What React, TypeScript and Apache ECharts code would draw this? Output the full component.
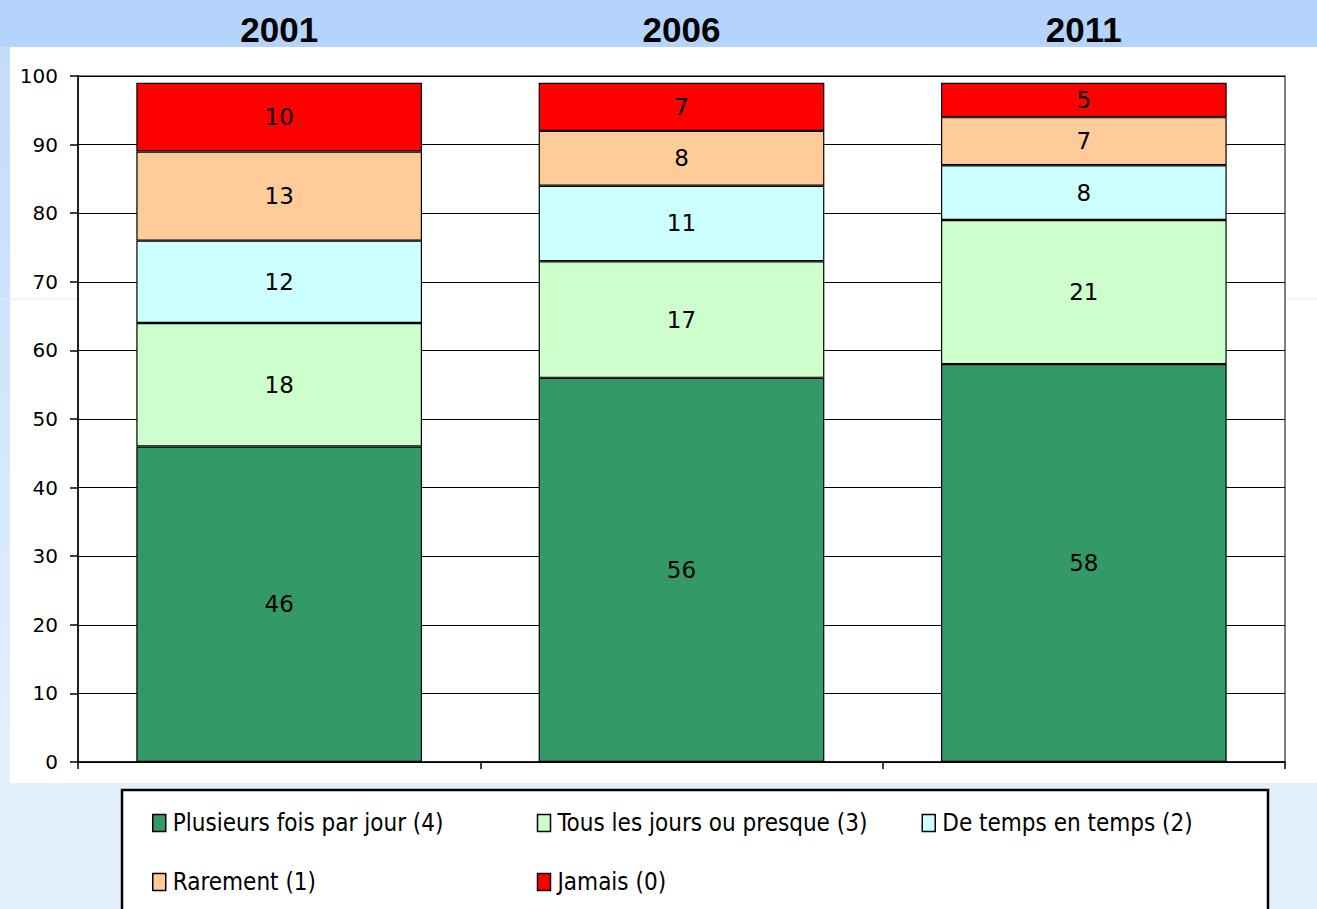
import React, { useEffect, useRef } from "react";
import * as echarts from "echarts";

const years = ["2001", "2006", "2011"];
const seriesNames = [
  "Plusieurs fois par jour (4)",
  "Tous les jours ou presque (3)",
  "De temps en temps (2)",
  "Rarement (1)",
  "Jamais (0)",
];
const plusieurs = [46, 56, 58];
const tousLesJours = [18, 17, 21];
const deTemps = [12, 11, 8];
const rarement = [13, 8, 7];
const jamais = [10, 7, 5];
const colors = ["#339966", "#ccffcc", "#ccffff", "#ffcc99", "#ff0000"];
const yTicks = { min: 0, max: 100, interval: 10 };

export default function App() {
  const ref = useRef<HTMLDivElement>(null);
  useEffect(() => {
    document.body.style.margin = "0";
    const chart = echarts.init(ref.current!, null, { renderer: "svg" });
    const values = [plusieurs, tousLesJours, deTemps, rarement, jamais];
    const legendText = {
      fontFamily: "Liberation Sans Narrow, DejaVu Sans Condensed, Liberation Sans, sans-serif",
      fontSize: 24,
      color: "#000",
      width: 354,
      lineHeight: 30,
    };
    chart.setOption({
      animation: false,
      backgroundColor: "#e3f1fd",
      graphic: [
        { type: "rect", z: -10, shape: { x: 0, y: 0, width: 1317, height: 47 }, style: { fill: "#b5d4fb" } },
        {
          type: "rect",
          z: -10,
          shape: { x: 0, y: 47, width: 10, height: 736 },
          style: {
            fill: new echarts.graphic.LinearGradient(0, 0, 0, 1, [
              { offset: 0, color: "#c2dcfb" },
              { offset: 1, color: "#e3f1fd" },
            ]),
          },
        },
        { type: "rect", z: -10, shape: { x: 10, y: 47, width: 1307, height: 736 }, style: { fill: "#ffffff" } },
        { type: "line", z: -9, shape: { x1: 0, y1: 299, x2: 1317, y2: 299 }, style: { stroke: "#e4eefa", lineWidth: 1 } },
        {
          type: "rect",
          z: -5,
          shape: { x: 122, y: 790, width: 1146, height: 140 },
          style: { fill: "#ffffff", stroke: "#000000", lineWidth: 2.5 },
        },
      ],
      grid: {
        left: 78,
        right: 32,
        top: 76,
        bottom: 147,
        show: true,
        backgroundColor: "#ffffff",
        borderColor: "#555555",
        borderWidth: 1.5,
      },
      legend: [
        {
          data: seriesNames.slice(0, 3),
          left: 152,
          top: 808,
          padding: 0,
          itemWidth: 13,
          itemHeight: 17,
          itemGap: 10,
          icon: "rect",
          itemStyle: { borderColor: "#000", borderWidth: 1.5 },
          textStyle: { ...legendText, padding: [0, 0, 0, 2] },
        },
        {
          data: seriesNames.slice(3),
          left: 152,
          top: 867,
          padding: 0,
          itemWidth: 13,
          itemHeight: 17,
          itemGap: 10,
          icon: "rect",
          itemStyle: { borderColor: "#000", borderWidth: 1.5 },
          textStyle: { ...legendText, padding: [0, 0, 0, 2] },
        },
      ],
      xAxis: [
        {
          type: "category",
          data: years,
          position: "bottom",
          axisLine: { lineStyle: { color: "#000", width: 1.5 } },
          axisTick: { show: true, length: 7, lineStyle: { color: "#000", width: 1.5 } },
          axisLabel: { show: false },
        },
        {
          type: "category",
          data: years,
          position: "top",
          axisLine: { show: false },
          axisTick: { show: false },
          axisLabel: {
            show: true,
            margin: 29,
            fontFamily: "Liberation Sans, Arial, sans-serif",
            fontWeight: "bold",
            fontSize: 35,
            color: "#000",
          },
        },
      ],
      yAxis: {
        type: "value",
        min: yTicks.min,
        max: yTicks.max,
        interval: yTicks.interval,
        axisLine: { show: true, lineStyle: { color: "#000", width: 1.5 } },
        axisTick: { show: true, length: 8, lineStyle: { color: "#000", width: 1.5 } },
        axisLabel: { margin: 20, fontFamily: "DejaVu Sans, Verdana, sans-serif", fontSize: 20, color: "#000" },
        splitLine: { show: true, lineStyle: { color: "#000", width: 1.2 } },
      },
      series: seriesNames.map((name, i) => ({
        name,
        type: "bar",
        stack: "total",
        xAxisIndex: 0,
        barWidth: "71%",
        data: values[i],
        itemStyle: { color: colors[i], borderColor: "#000", borderWidth: 1.2 },
        label: {
          show: true,
          position: "inside",
          fontFamily: "DejaVu Sans, Verdana, sans-serif",
          fontSize: 23,
          color: "#000",
        },
      })),
    });
    return () => chart.dispose();
  }, []);
  return <div ref={ref} style={{ width: 1317, height: 909 }} />;
}
